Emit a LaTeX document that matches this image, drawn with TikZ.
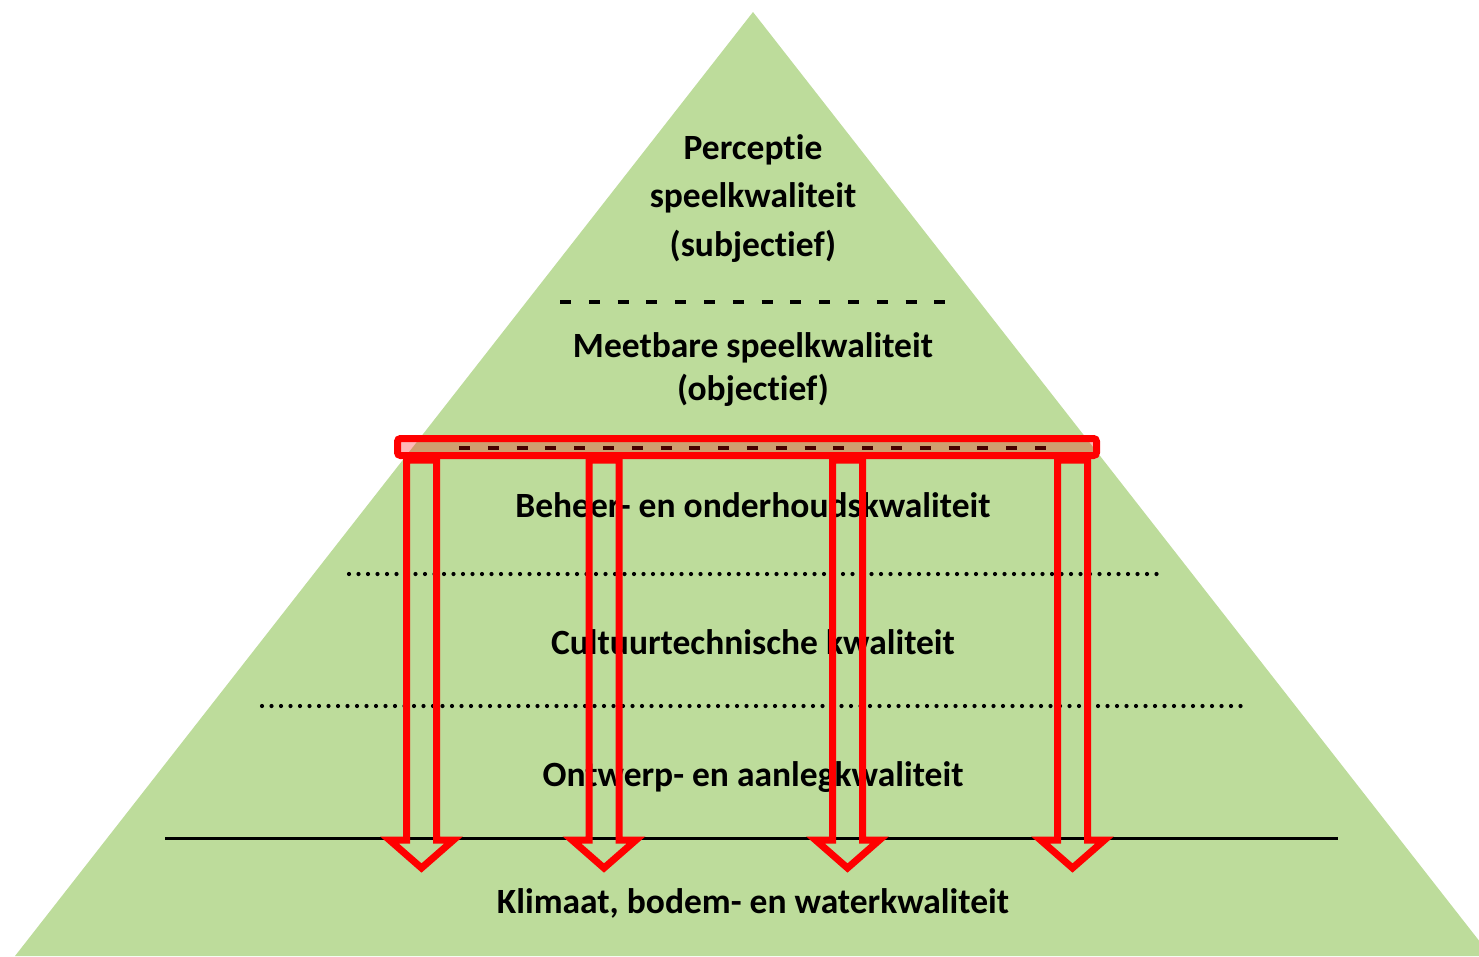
\documentclass[tikz,border=0pt]{standalone}
\usepackage{fontspec}
\setmainfont{Carlito}[Ligatures=NoCommon]
\definecolor{pyrgreen}{RGB}{189,220,155}
\begin{document}
\begin{tikzpicture}[x=1pt,y=-1pt,
  lbl/.style={anchor=base,inner sep=0pt,font=\fontsize{35.5}{42}\selectfont\bfseries},
  dashln/.style={line width=3.5pt,dash pattern=on 11pt off 17.8pt},
  dotln/.style={line width=4.2pt,line cap=round,dash pattern=on 0pt off 9.5pt},
  redbar/.style={draw=red,line width=7pt,fill=red,fill opacity=0.28,rounded corners=3pt},
  hollowarrow/.style={draw=red,line width=7pt,miter limit=10}
]
\useasboundingbox (0,0) rectangle (1479,956);
\fill[pyrgreen] (753,12) -- (15,956) -- (1491,956) -- cycle;
% separators
\coordinate (d1a) at (560,302); \coordinate (d1b) at (950,302);
\coordinate (d2a) at (459,448); \coordinate (d2b) at (1050,448);
\coordinate (o1a) at (349,574); \coordinate (o1b) at (1158,574);
\coordinate (o2a) at (262,706); \coordinate (o2b) at (1244,706);
\coordinate (s1a) at (165,838); \coordinate (s1b) at (1338,838);
\draw[dashln] (d1a) -- (d1b);
\draw[dashln] (d2a) -- (d2b);
\draw[dotln] (o1a) -- (o1b);
\draw[dotln] (o2a) -- (o2b);
\draw[line width=3pt] (s1a) -- (s1b);
% texts
\node[lbl] (t1) at (753,159) {Perceptie};
\node[lbl] (t2) at (753,207) {speelkwaliteit};
\node[lbl] (t3) at (753,256) {(subjectief)};
\node[lbl] (t4) at (753,357) {Meetbare speelkwaliteit};
\node[lbl] (t5) at (753,400) {(objectief)};
\node[lbl] (t6) at (753,517) {Beheer- en onderhoudskwaliteit};
\node[lbl] (t7) at (753,654) {Cultuurtechnische kwaliteit};
\node[lbl] (t8) at (753,786) {Ontwerp- en aanlegkwaliteit};
\node[lbl] (t9) at (753,913) {Klimaat, bodem- en waterkwaliteit};
% bar
\draw[redbar] (397.5,438.5) rectangle (1096.5,455.5);
% arrows
\foreach \c in {421.5,604,847.5,1072.5}{
  \draw[hollowarrow] (\c-15,460) -- (\c-15,840) -- (\c-32,840) -- (\c,868)
     -- (\c+32,840) -- (\c+15,840) -- (\c+15,460) -- cycle;
}
\end{tikzpicture}
\end{document}
